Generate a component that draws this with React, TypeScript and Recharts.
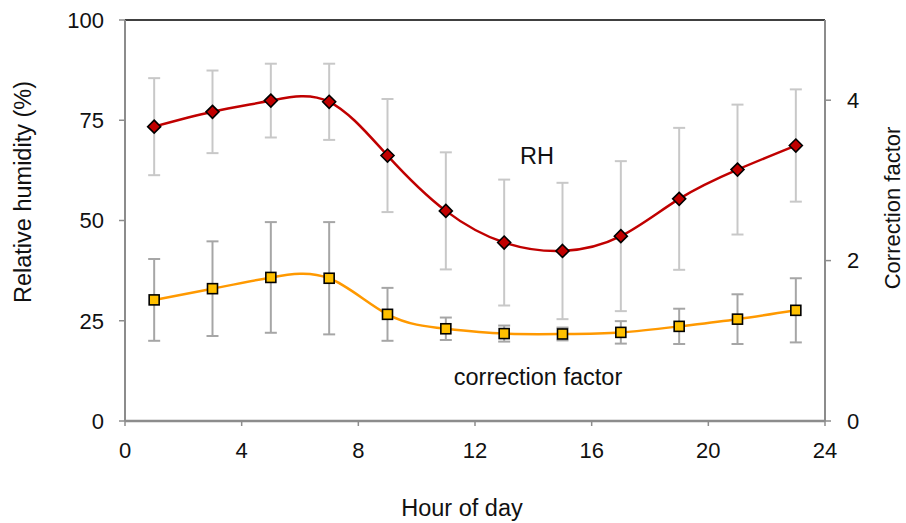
import React from 'react';
import {
  ComposedChart,
  Line,
  XAxis,
  YAxis,
  ErrorBar,
  ReferenceLine,
} from 'recharts';

// ---- data ----
const hours = [1, 3, 5, 7, 9, 11, 13, 15, 17, 19, 21, 23];
const rhValues = [73.4, 77.1, 79.9, 79.6, 66.2, 52.4, 44.5, 42.4, 46.1, 55.4, 62.7, 68.7];
const rhErrors = [12.1, 10.3, 9.2, 9.5, 14.1, 14.6, 15.7, 17.0, 18.7, 17.7, 16.2, 14.0];
const cfValues = [1.51, 1.65, 1.79, 1.78, 1.33, 1.15, 1.09, 1.085, 1.105, 1.18, 1.27, 1.38];
const cfErrors = [0.51, 0.59, 0.69, 0.7, 0.33, 0.14, 0.1, 0.08, 0.14, 0.22, 0.31, 0.4];

const xTicks = [0, 4, 8, 12, 16, 20, 24];
const leftTicks = [0, 25, 50, 75, 100];
const rightTicks = [0, 2, 4];

const data = hours.map((h, i) => ({
  hour: h,
  rh: rhValues[i],
  rhErr: rhErrors[i],
  cf: cfValues[i],
  cfErr: cfErrors[i],
}));

const FONT = '"Liberation Sans", Arial, sans-serif';
const AXIS_GRAY = '#8c8c8c';
const TEXT = '#111';

const W = 906;
const H = 523;

const Diamond = (props: any) => {
  const { cx, cy, index } = props;
  if (cx == null || cy == null) return <g key={`d-${index}`} />;
  const r = 6.5;
  return (
    <path
      key={`d-${index}`}
      d={`M${cx},${cy - r}L${cx + r},${cy}L${cx},${cy + r}L${cx - r},${cy}Z`}
      fill="#c00000"
      stroke="#000"
      strokeWidth={1.6}
    />
  );
};

const Square = (props: any) => {
  const { cx, cy, index } = props;
  if (cx == null || cy == null) return <g key={`s-${index}`} />;
  const s = 5;
  return (
    <rect
      key={`s-${index}`}
      x={cx - s}
      y={cy - s}
      width={2 * s}
      height={2 * s}
      fill="#ffc000"
      stroke="#000"
      strokeWidth={1.6}
    />
  );
};

const tickStyle = { fontSize: 22, fill: TEXT, fontFamily: FONT };

export default function App() {
  return (
    <div style={{ position: 'absolute', left: 0, top: 0, width: W, height: H, background: '#fff' }}>
      <ComposedChart
        width={W}
        height={H}
        data={data}
        margin={{ top: 20, right: 0, bottom: 0, left: 0 }}
      >
        <XAxis
          dataKey="hour"
          type="number"
          domain={[0, 24]}
          ticks={xTicks}
          interval={0}
          height={102}
          axisLine={{ stroke: AXIS_GRAY, strokeWidth: 2.5 }}
          tickLine={{ stroke: AXIS_GRAY, strokeWidth: 1.5 }}
          tickSize={5}
          tickMargin={16}
          tick={tickStyle}
        />
        <YAxis
          yAxisId="left"
          orientation="left"
          domain={[0, 100]}
          ticks={leftTicks}
          interval={0}
          width={125}
          axisLine={{ stroke: AXIS_GRAY, strokeWidth: 2 }}
          tickLine={{ stroke: AXIS_GRAY, strokeWidth: 1.5 }}
          tickSize={6}
          tickMargin={15}
          tick={tickStyle}
        />
        <YAxis
          yAxisId="right"
          orientation="right"
          domain={[0, 5]}
          ticks={rightTicks}
          interval={0}
          width={81}
          axisLine={{ stroke: AXIS_GRAY, strokeWidth: 2 }}
          tickLine={{ stroke: AXIS_GRAY, strokeWidth: 1.5 }}
          tickSize={6}
          tickMargin={16}
          tick={tickStyle}
        />
        <ReferenceLine yAxisId="left" y={100} stroke="#000" strokeWidth={1.5} ifOverflow="visible" />

        {/* error bars drawn first, behind the curves */}
        <Line
          yAxisId="left"
          dataKey="rh"
          stroke="none"
          dot={false}
          activeDot={false}
          isAnimationActive={false}
          legendType="none"
        >
          <ErrorBar dataKey="rhErr" direction="y" width={6} stroke="#c8c8c8" strokeWidth={2} />
        </Line>
        <Line
          yAxisId="right"
          dataKey="cf"
          stroke="none"
          dot={false}
          activeDot={false}
          isAnimationActive={false}
          legendType="none"
        >
          <ErrorBar dataKey="cfErr" direction="y" width={6} stroke="#a6a6a6" strokeWidth={2} />
        </Line>

        <Line
          yAxisId="right"
          dataKey="cf"
          type="natural"
          stroke="#ff9900"
          strokeWidth={2.5}
          dot={Square}
          activeDot={false}
          isAnimationActive={false}
        />
        <Line
          yAxisId="left"
          dataKey="rh"
          type="natural"
          stroke="#c00000"
          strokeWidth={2.5}
          dot={Diamond}
          activeDot={false}
          isAnimationActive={false}
        />
      </ComposedChart>

      <svg
        width={W}
        height={H}
        style={{ position: 'absolute', left: 0, top: 0, pointerEvents: 'none' }}
      >
        <g fontFamily={FONT} fontSize={23.5} fill={TEXT}>
          <text x={537} y={156} textAnchor="middle" dominantBaseline="central">RH</text>
          <text x={538} y={377} textAnchor="middle" dominantBaseline="central">correction factor</text>
          <text x={462} y={516} textAnchor="middle">Hour of day</text>
          <text
            x={0}
            y={0}
            textAnchor="middle"
            dominantBaseline="central"
            transform={`translate(23, 192) rotate(-90)`}
          >
            Relative humidity (%)
          </text>
          <text
            x={0}
            y={0}
            fontSize={22}
            textAnchor="middle"
            dominantBaseline="central"
            transform={`translate(892, 208) rotate(-90)`}
          >
            Correction factor
          </text>
        </g>
      </svg>
    </div>
  );
}
